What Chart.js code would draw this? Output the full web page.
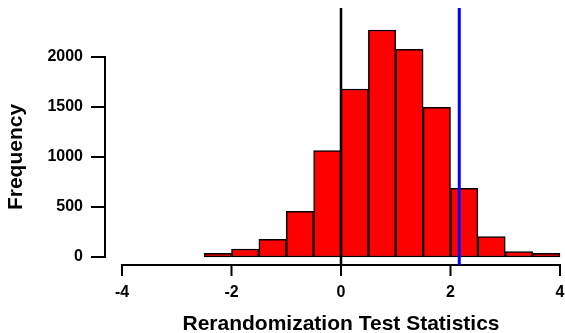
<!DOCTYPE html>
<html>
<head>
<meta charset="utf-8">
<script src="https://cdn.jsdelivr.net/npm/chart.js@4"></script>
<style>
html,body{margin:0;padding:0;background:#fff;}
#wrap{width:565px;height:333px;position:relative;}
</style>
</head>
<body>
<div id="wrap"><canvas id="c" width="565" height="333"></canvas></div>
<script>
// ---- data ----
const binCenters = [-2.25, -1.75, -1.25, -0.75, -0.25, 0.25, 0.75, 1.25, 1.75, 2.25, 2.75, 3.25, 3.75];
const frequencies = [37, 80, 177, 457, 1063, 1680, 2270, 2077, 1497, 687, 203, 53, 37];
const xTickValues = [-4, -2, 0, 2, 4];
const yTickValues = [0, 500, 1000, 1500, 2000];
const nullValue = 0;
const observedValue = 2.16;
const refLineRange = [-80, 2490];
const xTitle = 'Rerandomization Test Statistics';
const yTitle = 'Frequency';

const FONT = '"Liberation Sans", Arial, Helvetica, sans-serif';

const axesPlugin = {
  id: 'detachedAxes',
  beforeDatasetsDraw(chart) {
    const ctx = chart.ctx;
    const xs = chart.scales.x, ys = chart.scales.y;
    const ca = chart.chartArea;
    ctx.save();
    ctx.strokeStyle = '#000';
    ctx.lineWidth = 2;
    ctx.lineCap = 'butt';
    // y axis
    const yx = ca.left - 17;
    ctx.beginPath();
    ctx.moveTo(yx, ys.getPixelForValue(yTickValues[0]) + 1);
    ctx.lineTo(yx, ys.getPixelForValue(yTickValues[yTickValues.length - 1]) - 1);
    ctx.stroke();
    yTickValues.forEach(v => {
      const p = ys.getPixelForValue(v);
      ctx.beginPath();
      ctx.moveTo(yx, p);
      ctx.lineTo(yx - 14, p);
      ctx.stroke();
    });
    // x axis
    const xy = ca.bottom + 8;
    ctx.beginPath();
    ctx.moveTo(xs.getPixelForValue(xTickValues[0]) - 1, xy);
    ctx.lineTo(xs.getPixelForValue(xTickValues[xTickValues.length - 1]) + 1, xy);
    ctx.stroke();
    xTickValues.forEach(v => {
      const p = xs.getPixelForValue(v);
      ctx.beginPath();
      ctx.moveTo(p, xy);
      ctx.lineTo(p, xy + 11);
      ctx.stroke();
    });
    ctx.restore();
  }
};

new Chart(document.getElementById('c'), {
  data: {
    datasets: [
      {
        type: 'bar',
        data: binCenters.map((c, i) => ({x: c, y: frequencies[i]})),
        backgroundColor: '#ff0000',
        borderColor: '#000000',
        borderWidth: 1.5,
        borderSkipped: false,
        barPercentage: 1,
        categoryPercentage: 1,
        clip: false,
        order: 3
      },
      {
        type: 'line',
        data: refLineRange.map(y => ({x: nullValue, y})),
        borderColor: '#000000',
        borderWidth: 2.5,
        pointRadius: 0,
        clip: false,
        order: 1
      },
      {
        type: 'line',
        data: refLineRange.map(y => ({x: observedValue, y})),
        borderColor: '#0000ff',
        borderWidth: 3,
        pointRadius: 0,
        clip: false,
        order: 2
      }
    ]
  },
  options: {
    responsive: false,
    animation: false,
    layout: {padding: {top: 57, right: 5, left: 0, bottom: 0}},
    plugins: {legend: {display: false}, tooltip: {enabled: false}},
    scales: {
      x: {
        type: 'linear',
        offset: false,
        min: -4, max: 4,
        afterBuildTicks: s => { s.ticks = xTickValues.map(v => ({value: v})); },
        afterFit: s => { s.height = 76; s.paddingLeft = 0; s.paddingRight = 0; },
        grid: {display: false, drawTicks: false, offset: false},
        border: {display: false},
        ticks: {
          padding: 26,
          color: '#000',
          font: {family: FONT, size: 16, weight: 'bold'},
          maxRotation: 0,
          autoSkip: false,
          callback: v => String(v)
        },
        title: {
          display: true,
          text: xTitle,
          color: '#000',
          font: {family: FONT, size: 21, weight: 'bold', lineHeight: 1},
          padding: {top: 0, bottom: -2}
        }
      },
      y: {
        type: 'linear',
        min: 0, max: 2000,
        afterBuildTicks: s => { s.ticks = yTickValues.map(v => ({value: v})); },
        afterFit: s => { s.width = 122; s.paddingTop = 0; s.paddingBottom = 0; },
        grid: {display: false, drawTicks: false},
        border: {display: false},
        ticks: {
          padding: 39,
          color: '#000',
          font: {family: FONT, size: 16, weight: 'bold'},
          autoSkip: false,
          callback: v => String(v)
        },
        title: {
          display: true,
          text: yTitle,
          color: '#000',
          font: {family: FONT, size: 21, weight: 'bold', lineHeight: 1},
          padding: {top: 6, bottom: 0}
        }
      }
    }
  },
  plugins: [axesPlugin]
});
</script>
</body>
</html>
